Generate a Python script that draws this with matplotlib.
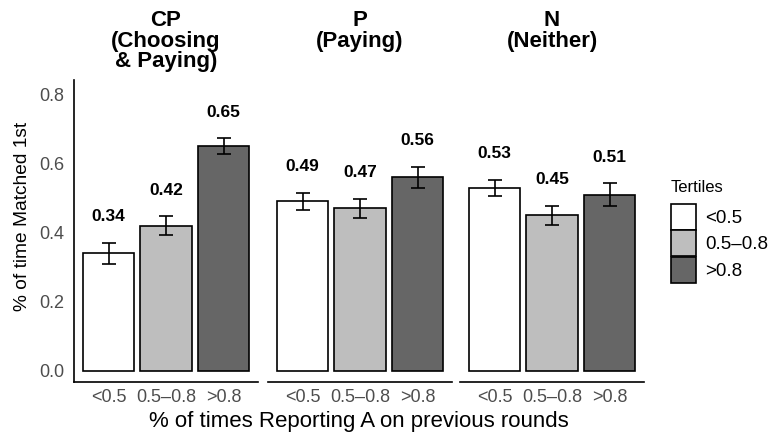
import matplotlib
matplotlib.use("Agg")
import matplotlib.pyplot as plt
from matplotlib.patches import Patch

plt.rcParams['font.family'] = ['Liberation Sans', 'DejaVu Sans']

panels = ["CP\n(Choosing\n& Paying)", "P\n(Paying)", "N\n(Neither)"]
tertiles = ["<0.5", "0.5\u20130.8", ">0.8"]
values = [[0.34, 0.42, 0.65],
          [0.49, 0.47, 0.56],
          [0.53, 0.45, 0.51]]
errors = [[0.030, 0.028, 0.023],
          [0.025, 0.028, 0.030],
          [0.023, 0.027, 0.032]]
colors = ["#FFFFFF", "#BEBEBE", "#666666"]
yticks = [0.0, 0.2, 0.4, 0.6, 0.8]

W, H = 769, 438
fig = plt.figure(figsize=(W / 100, H / 100), dpi=100)
lefts = [74, 268, 460]
pw = 184
bottom_px, top_px = 382, 80
tick_col = "#4D4D4D"
tick_fs = 13

for i, (name, vals, errs) in enumerate(zip(panels, values, errors)):
    ax = fig.add_axes([lefts[i] / W, (H - bottom_px) / H, pw / W, (bottom_px - top_px) / H])
    xs = [1, 2, 3]
    ax.bar(xs, vals, width=0.9, color=colors, edgecolor="black", linewidth=1.2, zorder=2)
    ax.errorbar(xs, vals, yerr=errs, fmt="none", ecolor="black", elinewidth=1.2,
                capsize=5, capthick=1.2, zorder=3)
    for x, v, e in zip(xs, vals, errs):
        ax.text(x, v + e + 0.075, f"{v:.2f}", ha="center", va="center",
                fontsize=12.5, fontweight="bold")
    ax.set_xlim(0.4, 3.6)
    ax.set_ylim(-0.032, 0.841)
    ax.set_xticks(xs)
    ax.set_xticklabels(tertiles, color=tick_col, fontsize=tick_fs)
    ax.tick_params(axis="x", length=0, pad=5)
    for s in ["top", "right"]:
        ax.spines[s].set_visible(False)
    ax.spines["bottom"].set_linewidth(1.2)
    if i == 0:
        ax.set_yticks(yticks)
        ax.set_yticklabels([f"{t:.1f}" for t in yticks], color=tick_col, fontsize=tick_fs)
        ax.tick_params(axis="y", length=0, pad=7)
        ax.spines["left"].set_linewidth(1.2)
    else:
        ax.set_yticks([])
        ax.spines["left"].set_visible(False)
    ax.patch.set_alpha(0)
    cx = (lefts[i] + pw / 2) / W
    fig.text(cx, 1 - 10 / H, name, ha="center", va="top", fontsize=16,
             fontweight="bold", linespacing=0.98)

fig.text(23 / W, 1 - 216 / H, "% of time Matched 1st", rotation=90,
         ha="center", va="center", fontsize=13.8)
fig.text((74 + 643) / 2 / W, 1 - 421 / H, "% of times Reporting A on previous rounds",
         ha="center", va="center", fontsize=16)

handles = [Patch(facecolor=c, edgecolor="black", linewidth=1.2) for c in colors]
leg = fig.legend(handles, tertiles, loc="upper left",
                 bbox_to_anchor=(671 / W, 1 - 204 / H), frameon=False, fontsize=13.5,
                 handlelength=1.33, handleheight=1.75,
                 handletextpad=0.5, labelspacing=0.02, borderpad=0, borderaxespad=0)
fig.text(671 / W, 1 - 187 / H, "Tertiles", ha="left", va="center", fontsize=12)

fig.savefig("out.png", dpi=100)
